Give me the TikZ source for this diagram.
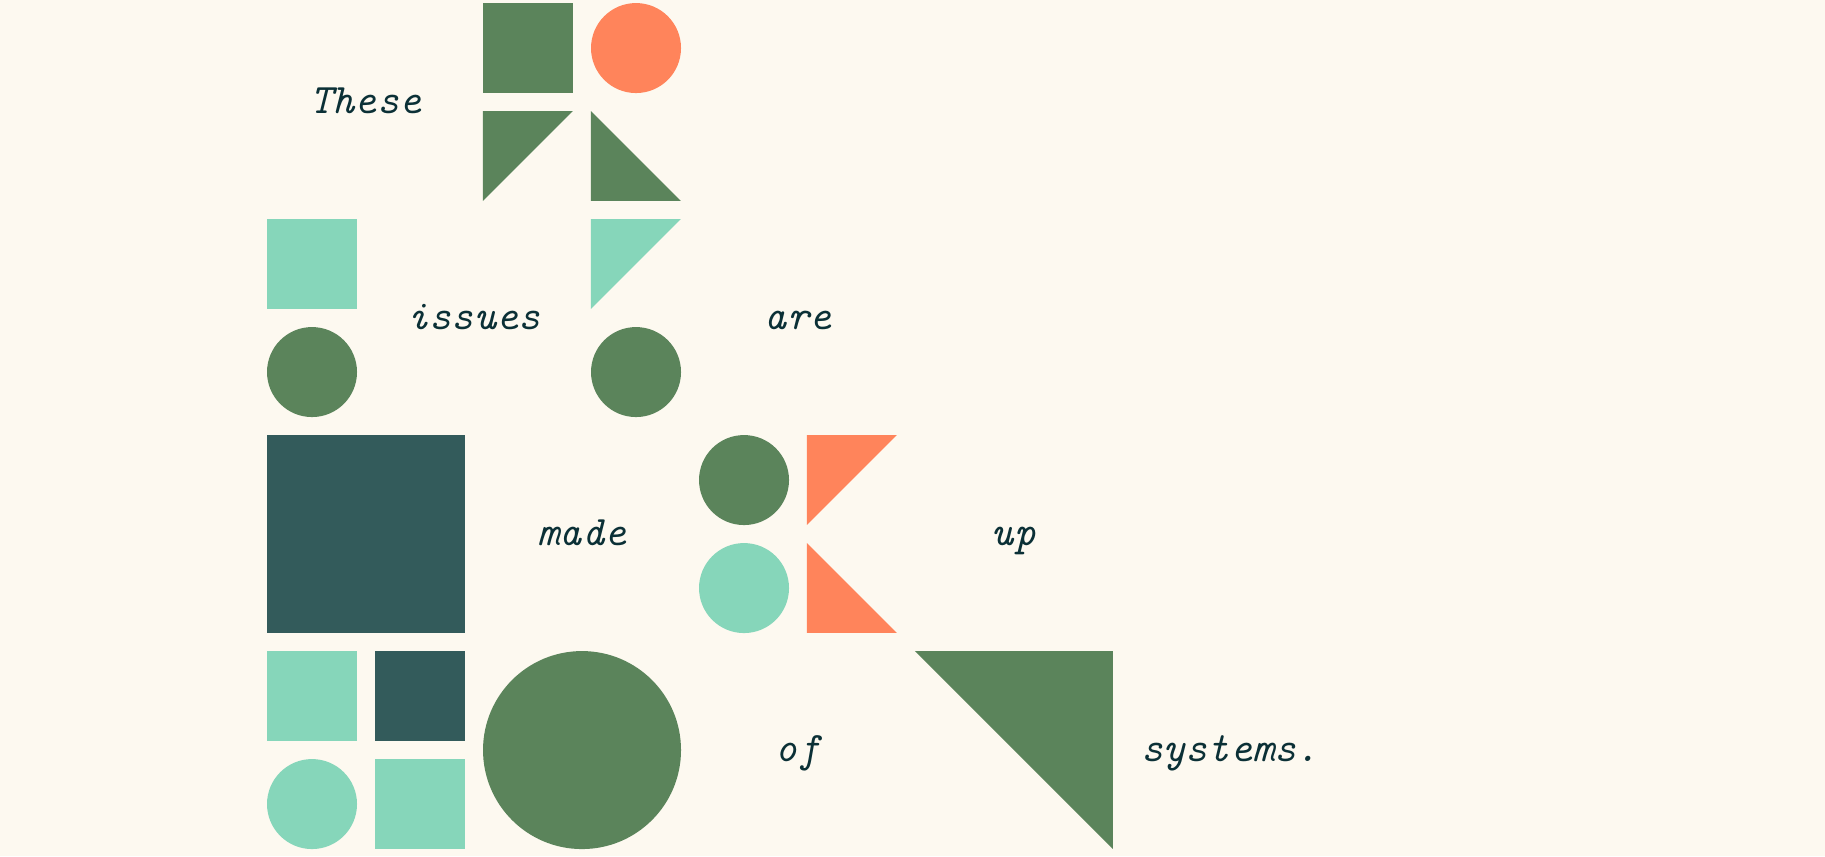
\documentclass[tikz,border=0pt]{standalone}
\usepackage{fontspec}

\definecolor{paper}{HTML}{FDF9F0}
\definecolor{leaf}{HTML}{5B845B}
\definecolor{coral}{HTML}{FF845B}
\definecolor{mint}{HTML}{86D6BA}
\definecolor{slate}{HTML}{335B5B}
\definecolor{ink}{HTML}{0B3036}

\tikzset{word/.style={font=\fontsize{21}{24}\selectfont\ttfamily\itshape,
    text=ink, inner sep=0pt, anchor=base}}

\begin{document}
\begin{tikzpicture}[x=54pt,y=-54pt]

\fill[paper] (-2.472,-0.028) rectangle (14.426,7.898);

% These
\fill[leaf] (2,0) rectangle (2.833,0.833);
\fill[coral] (3.417,0.417) circle[radius=22.5pt];
\fill[leaf] (2,1) -- (2.833,1) -- (2,1.833) -- cycle;
\fill[leaf] (3,1) -- (3,1.833) -- (3.833,1.833) -- cycle;
\node[word] (these) at (0.917,1.025) {These};

% issues are
\fill[mint] (0,2) rectangle (0.833,2.833);
\fill[leaf] (0.417,3.417) circle[radius=22.5pt];
\fill[mint] (3,2) -- (3.833,2) -- (3,2.833) -- cycle;
\fill[leaf] (3.417,3.417) circle[radius=22.5pt];
\node[word] (issues) at (1.917,3.025) {issues};
\node[word] (are) at (4.917,3.025) {are};

% made up
\fill[slate] (0,4) rectangle (1.833,5.833);
\fill[leaf] (4.417,4.417) circle[radius=22.5pt];
\fill[mint] (4.417,5.417) circle[radius=22.5pt];
\fill[coral] (5,4) -- (5.833,4) -- (5,4.833) -- cycle;
\fill[coral] (5,5) -- (5,5.833) -- (5.833,5.833) -- cycle;
\node[word] (made) at (2.917,5.025) {made};
\node[word] (up) at (6.917,5.025) {up};

% of systems.
\fill[mint] (0,6) rectangle (0.833,6.833);
\fill[slate] (1,6) rectangle (1.833,6.833);
\fill[mint] (0.417,7.417) circle[radius=22.5pt];
\fill[mint] (1,7) rectangle (1.833,7.833);
\fill[leaf] (2.917,6.917) circle[radius=49.5pt];
\fill[leaf] (6,6) -- (7.833,6) -- (7.833,7.833) -- cycle;
\node[word] (of) at (4.917,7.025) {of};
\node[word] (systems) at (8.917,7.025) {systems.};

\end{tikzpicture}
\end{document}
